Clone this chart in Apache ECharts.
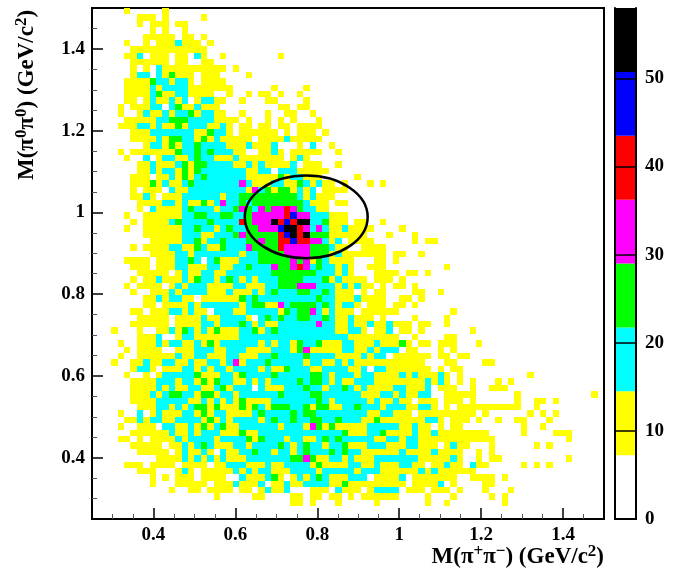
<!DOCTYPE html>
<html>
<head>
<meta charset="utf-8">
<style>html,body{margin:0;padding:0;background:#fff}#c{width:681px;height:570px}</style>
<script src="https://cdn.jsdelivr.net/npm/echarts@6/dist/echarts.min.js"></script>
</head>
<body>
<div id="c"></div>
<script>
const xRange = [0.25, 1.5];
const yRange = [0.25, 1.5];
const binCount = 80;
const majorTicks = [0.4, 0.6, 0.8, 1, 1.2, 1.4];
const minorTicks = [0.3, 0.35, 0.45, 0.5, 0.55, 0.65, 0.7, 0.75, 0.85, 0.9, 0.95, 1.05, 1.1, 1.15, 1.25, 1.3, 1.35, 1.45];
const zTicks = [0, 10, 20, 30, 40, 50];
const zMax = 58;
const bandColors = ['#ffffff', '#ffff00', '#00ffff', '#00ff00', '#ff00ff', '#ff0000', '#0000ff', '#000000'];
const bandWidth = 7.25;
const levelCodes = '.ycgmrbk';
const levelValues = [0, 11, 18, 25, 33, 40, 47, 54];
const ellipse = [0.773, 0.989, 0.15, 0.101];
// Cell rows from the top of the plot: "col(-col)level", level codes y c g m r b k
const cellRows = [
"5y 11y",
"7-9y 11y 17y",
"7y 9-11y 13-14y",
"9y 11y 14y",
"8-12y 14-15y 17y",
"5y 8y 10-12y 13c 14-16y 18y",
"6-17y",
"5-6y 7c 9-11y 13-14y 16c 17y 20y 29y",
"6-11y 13-14y 17-18y",
"6y 8y 10c 11-20y 22y",
"6y 7-8c 10c 11y 12g 13-15y 17-19y 24y",
"5-8y 9g 10-11c 12y 13-14c 15y 17-20y",
"5-8y 9c 10y 11-14c 15-21y 28y 33y",
"5-8y 9c 10g 11-12y 13-14c 15-18y 21y 24y 26-27y 29y 32y",
"5-6y 8y 9c 10-11y 12c 13y 14c 16y 17-18c 19-20y 23y 27-28y 33y",
"4y 6-8y 9-10c 12c 13g 14-15y 16c 17-19y 29-30y 32-33y",
"4y 7y 8c 9-10y 11c 12y 13-14c 15g 16y 17-18c 19-20y 23y 27y 30-31y 34y",
"5-9y 10-11c 12-14g 15-18c 19-22y 24y 27y 29y 31y 35y",
"4-6y 7-8c 9y 10c 11-12y 13g 14y 15-17c 18-19y 20c 21y 23-24y 26-27y 29-30y 32-35y",
"6-8y 9-15c 16-17y 18g 19-20c 21y 23-28y 30y 32-34y 36y",
"6-9y 10c 11y 12-13g 14-15c 16y 17g 18y 19c 20-24y 26-29y 30c 31-35y",
"8y 9-10c 11y 12g 13y 14-15c 16g 17-20c 21-23y 24c 25-27y 28c 32y 34c 37y",
"4y 6-12y 13g 14-15c 16g 17c 18g 19-21c 22-23y 26-27y 28c 29y 31-35y 38y",
"5y 8c 10y 11-12c 13-14y 15c 16g 17-18c 19-21y 22c 23-29y 31y 32c 33y",
"7-8y 9c 10-12y 13c 14g 15y 16-17g 18-21c 22-23y 24c 25y 26c 27-30y 31c 33-35y 38y",
"7-8y 9c 10y 11-12c 13y 14g 15y 16g 17-23c 24-25y 26-27c 29-31c 32-36y",
"6-8y 10-11y 12c 13y 14g 15y 16c 17g 18-23c 24-28y 29g 30y 31-32c 33-35y 41y",
"6-8y 9g 10y 11c 12-13y 14c 15g 16-22c 23m 24c 25-27y 28-29c 30-31y 32g 33c 34y 35c 36-37y 39y 43y 45y",
"6y 8-10y 12c 13-14y 15-23c 24y 25m 26c 27g 28y 29-30g 31y 32c 33y 34c 36-39y",
"6-7y 8c 9y 11-13y 14-19c 20y 21-22c 23-31g 32c 33y 34c 35-37y",
"7-10y 11-12c 13y 14c 15-16y 17g 18y 19c 20m 21-22c 23g 24c 25-32g 33c 34-36y 38-39y",
"7y 9c 10-13y 14c 15g 16-18c 19y 20-21c 22g 23m 24g 25c 26m 27g 28-29m 30r 31m 32g 33-34c 35-36y",
"5y 8-13y 14-15c 16-17g 18-19c 20-21g 22-23c 24g 25-29m 30r 31b 32-33m 34-36c 37-39y",
"6y 8-11y 12c 13g 14-17c 18g 19-22c 23r 24g 25-27m 28k 29r 30b 31r 32-33k 34-35c 36g 37-39y 41-42y 45y",
"5y 8-13y 14-15c 16g 17-18c 19y 20c 21g 22-23c 24-25g 26-28m 29b 30-31k 32r 33m 34c 35m 36c 37-38y 39c 40-43y 48y",
"8-13y 14-16c 17-18y 19-21c 22g 23m 24-28g 29r 30b 31k 32r 33k 34-36g 37-42y 46y 50y",
"9-13y 14-15c 16g 17y 18-19c 20g 21-23c 24-25g 26m 27-28g 29-30r 31b 32-33r 34-35m 36c 37y 38c 40-43y 50y 52-53y",
"6y 8-11y 12-13c 14-15y 16g 17c 18-19y 20g 21-23c 24m 25-28g 29r 30-33m 34-36g 37c 38-39y 42-45y",
"9-12y 13-14c 15y 16-22c 23y 24-25c 26-29g 30-33m 34-36g 37y 38c 39-45y 47-48y 51y",
"5-8y 10-12y 13-14c 15g 16c 18c 19g 20-22y 23-25c 26-30g 31m 32g 33m 34y 35g 36c 37-40y 44-45y 47y",
"6-8y 10-12y 13-14c 15-17y 18-19c 20-21y 22-23c 24g 25-27c 28m 29-30g 31m 32r 33m 34c 35g 36-37c 38y 39c 40y 43-45y 55y",
"7-11y 13y 14c 15-16y 17-18c 19-20y 21-27c 28-34g 35-37c 38y 39c 40y 44-47y 49-50y 52y",
"6y 8-9y 10c 11-13y 14c 15y 16g 17-18c 19y 20c 21g 22c 23y 24c 25y 26-28c 29-32g 33-35c 36g 37y 38c 39-42y 44-46y 48y",
"5y 7-10y 12y 13c 14y 15-17c 18-21y 22-23c 24-26y 27-28c 29-31g 32-34m 35-37c 38y 39c 40y 41c 42-43y 45y 47-48y 50y",
"6y 9-11y 12c 13y 14-17c 18-20y 21c 22-24y 25c 26y 27c 28g 29-31c 32-33g 34-35c 36g 37c 38-40y 42y 44-45y 50-51y 54y",
"8-9y 10c 11y 12-13c 14-15y 17-22y 23g 24c 25g 26-34c 35g 36-37c 38-40y 41c 42-45y 48-49y 51y",
"8-9y 11-14y 15c 16y 17-22c 23y 24c 25-26g 27-28y 29m 30c 31-34g 35c 36g 37c 38y 39-40c 41y 43-45y 47-48y 50y",
"6-7y 9-11y 12-13c 14y 15c 16-17y 19-21c 22-23y 24-28c 29y 30g 31c 32-33g 34m 35c 36y 37c 38-40y 42-47y 56y",
"7-11y 13-16y 17c 18-19y 20-23c 24y 26c 27g 28c 29g 30-31c 32-33g 34-35c 36g 37c 38-39y 40c 41-43y 45y 50y 55y",
"6-11y 13-16y 17-18c 19y 20-22c 23g 24c 25y 26c 27-28y 29-34c 35m 36-37c 38-39y 40c 41-42y 43c 44-45y 46c 47-49y 51-52y 55y",
"3y 7y 10-11y 12c 13y 14g 15c 16y 17c 18y 19g 20-22y 23-24c 25g 26y 27c 28g 29-37c 38-39y 40-41c 42y 44-45y 46c 48-49y 51y 59y",
"7-9y 10c 13y 14-15c 16-22y 23-39c 40-47y 50y 55-56y",
"4y 7-9y 10c 11y 12-13c 14-15y 16c 17y 18g 19y 20-21c 22-25c 26y 27c 28y 29-30c 31y 32g 33-34c 35g 36-38y 39-40c 41-43y 44c 45-47y 48g 49y 51-52y 54-56y 60y",
"5y 7-10y 13-15y 16-18c 19-20y 21-23c 24-27y 28-30c 31y 32g 33m 34-38y 39-40c 41-42y 43c 44y 45-47c 49-50y 54y 56y",
"4y 7-12y 13c 14-15y 16-17c 18-20y 21-22c 23-25y 26-27c 28g 29-32c 33g 34-37c 38-41y 42c 43y 44-45c 47-52y 54-55y 57-58y",
"3y 6-7y 8c 9-10y 11-12c 13-14y 15c 16-17y 18-19c 20y 21c 22m 23y 24-26c 27g 28-32c 33y 34-35c 36-37y 38c 39y 40c 41-51y 55-56y 61-62y",
"6y 7-8c 9y 11-13y 14-15c 16y 17c 18y 19-20c 21y 22-25c 26y 27c 28-29y 30g 31-33c 34-35y 36-39c 40-41y 42c 44-45c 46-52y 54y 56-57y",
"5y 8y 10y 11-15c 16g 17-19y 20-21c 22y 23g 24-27c 28g 29-33c 34-35g 36c 37y 38-40c 41y 42-43c 44-47y 48c 49y 50c 51-53y 54c 55y 57y 68y",
"6-9y 10-12c 13y 14-15c 16y 17g 18y 19g 20-21c 22-23y 24c 25y 26c 27y 28-31c 32g 33c 34-35g 36c 37y 38c 39-40y 41-43c 44-51y 52c 53y 54c 55y 57y 59y 63y 65y",
"6-9y 10c 11y 12c 13-14y 15-16c 17-18y 19c 20g 21y 22-24c 26c 27-29y 30-32c 33g 34-35c 36y 37-38c 39g 40c 41y 42c 43-46y 47-48c 49-51y 52c 54-56y 59y 62-64y",
"6-8y 9c 10y 11c 12-13g 14-15c 16y 17-18g 19y 20-21c 22y 23-28c 29g 30-33c 34-35g 36-41c 42-44y 45-46c 47y 48c 49-50y 51-52c 55-59y 66y 78y",
"6-9y 10-14c 15-16y 17c 18y 19c 20y 21c 22y 23g 24-27y 28-34c 35g 36c 37y 38-42c 43y 44c 45-46y 47c 48-49y 51-53y 55-57y 59y 66y 69-70y 72y",
"7-9y 10-11c 12y 13c 14y 15c 16-17g 18y 19g 20-22y 23g 24y 25g 26c 27y 28-30g 31-32c 33g 34y 35-36g 37-38y 39-40c 41g 42-44c 45y 46-48c 49-50y 51-52c 53y 55y 57-66y 69y",
"4y 7c 9y 10c 11-13y 14-15c 16y 17g 18y 19-20c 21-24y 25c 26g 27-30c 31g 32c 33-34g 35-42c 43-44y 45-46c 47-49y 51-59y 61y 68y 70y 72y",
"5-6y 7c 8y 9-10c 11-12y 13-16c 17y 18g 19y 20c 21y 22-25c 26y 27c 28g 29-30c 31g 32-33c 34-35g 36-37c 38g 39-41c 42-43y 44g 45-51y 52-53c 54y 56-58y 60y 63y 66-67y 71y",
"4y 7-9y 11-12c 13-14y 15c 16y 17g 18y 19c 20g 21-22y 23-28c 29y 30-32c 33y 34m 35g 36y 37g 38-42y 43-47c 48-49y 50c 51-52y 54y 56-57y 67y 70y",
"6-11y 12c 13-14y 15c 16y 17-19c 20-22y 23g 24-25y 26-38c 39g 40-42y 43-44c 45g 46-49y 50c 51-52y 53c 54-61y 67y 72-74y",
"4-5y 7y 9-12y 13c 14y 15-18c 19y 20-23c 24g 25y 26g 27-29c 30y 31-32c 33-34y 35c 36g 37c 38g 39-43c 44-45y 46-47c 48y 49-50c 51-62y 74y",
"6-10y 12-13y 14c 15y 16c 17g 18c 19-21y 22-23c 24y 25-28c 29g 30c 31y 32c 33g 34-35c 36y 37-38c 39g 40-42y 43-45c 46-48y 49-50c 51-53y 55y 56c 57-58y 62y 69y 71y",
"7-11y 13y 14c 15-16y 17c 18y 20c 21-22y 23-24c 25g 26-27c 28y 29-30c 31y 32c 33g 34-36c 37g 38c 39g 40-41c 42-47y 48c 49-52y 53c 54-57y 60y 62y",
"10-13y 14c 15y 16c 17y 18c 19y 20c 21-23y 24-30c 31-32g 33m 34g 35-36y 37-38c 39y 40c 41-43y 44-50c 51-54y 55y 56c 57y 60y 62-63y 74y",
"5-7y 9-12y 14-17y 19-20y 21-23c 24-26y 27c 28-30y 30-33c 34y 35g 36-39y 40-41c 42-43y 44c 45-47y 48-49c 50-51y 53-54y 55c 56-57y 59c 60-61y 67y 69y 71y",
"7-9y 13y 14c 15y 17-21y 22c 23y 24c 25y 26-27c 28-30y 31-34c 35y 36-40c 41y 42-44c 45-50y 51c 52y 53c 54-59y",
"9y 11y 13-15y 17-20y 23c 24-26y 27c 28g 29y 31y 32c 33y 34c 35g 36c 37-39y 40-42c 44-47y 48c 50-56y 59-62y 64y",
"9y 13-17y 19-21y 22c 23-25y 26c 28-29y 30c 31-32y 33-36c 37-38y 39g 40-48y 50-53y 54c 56y 61-62y",
"12y 15-16y 18-21y 23-24y 26y 27c 28-29y 30c 34-36y 38c 39-41y 43y 44-47c 49-51y 53-55y 57y 61y 65y",
"19y 25-26y 31-32y 34-35y 37-38y 40y 42-47y 52y 56y 62y 64y",
"31-32y 34y 38y 44y 52y 55y 64y"
];

const binSize = (xRange[1] - xRange[0]) / binCount;
const cellData = [];
cellRows.forEach(function (row, r) {
  const cells = {};
  row.split(' ').forEach(function (token) {
    const m = token.match(/^(\d+)(?:-(\d+))?([a-z])$/);
    const from = +m[1], to = m[2] ? +m[2] : from;
    for (let c = from; c <= to; c++) cells[c] = levelValues[levelCodes.indexOf(m[3])];
  });
  Object.keys(cells).forEach(function (c) {
    cellData.push([xRange[0] + c * binSize, yRange[1] - (r + 1) * binSize, cells[c]]);
  });
});

const serif = '"Liberation Serif","Times New Roman",serif';
const labelStyle = { fontFamily: serif, fontWeight: 'bold', fontSize: 19, color: '#000' };
const supStyle = { fontFamily: serif, fontWeight: 'bold', fontSize: 17, color: '#000', padding: [0, 0, 11, 0] };
const lineDark = { color: '#000', width: 2 };

const valueAxis = function (range, extra) {
  return Object.assign({ type: 'value', min: range[0], max: range[1], splitLine: { show: false }, axisLine: { show: true, onZero: false, lineStyle: lineDark } }, extra);
};
const majorAxis = function (range, margin) {
  return valueAxis(range, {
    axisTick: { show: true, inside: true, length: 11, customValues: majorTicks, lineStyle: { color: '#000', width: 1.5 } },
    axisLabel: Object.assign({ show: true, margin: margin, customValues: majorTicks }, labelStyle)
  });
};
const minorAxis = function (range) {
  return valueAxis(range, {
    axisTick: { show: true, inside: true, length: 5, customValues: minorTicks, lineStyle: { color: '#555', width: 1 } },
    axisLabel: { show: false }
  });
};

const bandSeries = bandColors.map(function (color, i) {
  return {
    type: 'bar', stack: 'bands', xAxisIndex: 2, yAxisIndex: 2, barWidth: '100%', silent: true,
    itemStyle: { color: color }, data: [bandWidth]
  };
});

const chart = echarts.init(document.getElementById('c'), null, { renderer: 'canvas' });
chart.setOption({
  animation: false,
  backgroundColor: '#fff',
  textStyle: { fontFamily: serif },
  grid: [
    { left: 92, top: 8, width: 512, height: 511, show: true, borderColor: '#000', borderWidth: 2, backgroundColor: 'transparent' },
    { left: 615, top: 8, width: 21, height: 511, show: false }
  ],
  xAxis: [
    Object.assign(majorAxis(xRange, 7), { gridIndex: 0, position: 'bottom' }),
    Object.assign(minorAxis(xRange), { gridIndex: 0, position: 'bottom' }),
    { gridIndex: 1, type: 'category', data: ['z'], z: 10, position: 'bottom', axisLine: { show: true, lineStyle: lineDark }, axisTick: { show: false }, axisLabel: { show: false } },
    { gridIndex: 1, type: 'category', data: ['z'], z: 10, position: 'top', axisLine: { show: true, lineStyle: lineDark }, axisTick: { show: false }, axisLabel: { show: false } }
  ],
  yAxis: [
    Object.assign(majorAxis(yRange, 7), { gridIndex: 0, position: 'left' }),
    Object.assign(minorAxis(yRange), { gridIndex: 0, position: 'left' }),
    {
      gridIndex: 1, type: 'value', position: 'right', min: 0, max: zMax, splitLine: { show: false }, z: 10,
      axisLine: { show: true, lineStyle: lineDark },
      axisTick: { show: true, inside: true, length: 21, customValues: zTicks, lineStyle: { color: '#000', width: 1.5 } },
      axisLabel: Object.assign({ show: true, margin: 9, customValues: zTicks }, labelStyle)
    },
    {
      gridIndex: 1, type: 'value', position: 'left', min: 0, max: zMax, splitLine: { show: false }, z: 10,
      axisLine: { show: true, lineStyle: lineDark }, axisTick: { show: false }, axisLabel: { show: false }
    }
  ],
  series: [
    {
      type: 'custom', xAxisIndex: 0, yAxisIndex: 0, silent: true, z: 1, clip: true, data: cellData,
      renderItem: function (params, api) {
        const p0 = api.coord([api.value(0), api.value(1) + binSize]);
        const p1 = api.coord([api.value(0) + binSize, api.value(1)]);
        const band = Math.min(bandColors.length - 1, Math.floor(api.value(2) / bandWidth));
        const x0 = Math.round(p0[0]), y0 = Math.round(p0[1]);
        return {
          type: 'rect',
          shape: { x: x0, y: y0, width: Math.round(p1[0]) - x0, height: Math.round(p1[1]) - y0 },
          style: { fill: bandColors[band] }
        };
      }
    },
    {
      type: 'custom', xAxisIndex: 0, yAxisIndex: 0, silent: true, z: 3, data: [ellipse],
      renderItem: function (params, api) {
        const c = api.coord([api.value(0), api.value(1)]);
        const s = api.size([api.value(2), api.value(3)]);
        return {
          type: 'ellipse',
          shape: { cx: c[0], cy: c[1], rx: s[0], ry: s[1] },
          style: { fill: 'none', stroke: '#000', lineWidth: 2.5 }
        };
      }
    }
  ].concat(bandSeries),
  graphic: [
    {
      type: 'text', right: 77, top: 543, z: 10,
      style: {
        text: 'M(π{sup|+}π{sup|−}) (GeV/c{sup|2})', fontFamily: serif, fontWeight: 'bold', fontSize: 23, fill: '#000',
        rich: { sup: supStyle }
      }
    },
    {
      type: 'text', x: 13, y: 180, rotation: Math.PI / 2, z: 10,
      style: {
        text: 'M(π{sup|0}π{sup|0}) (GeV/c{sup|2})', fontFamily: serif, fontWeight: 'bold', fontSize: 23, fill: '#000',
        rich: { sup: supStyle }
      }
    }
  ]
});
</script>
</body>
</html>
